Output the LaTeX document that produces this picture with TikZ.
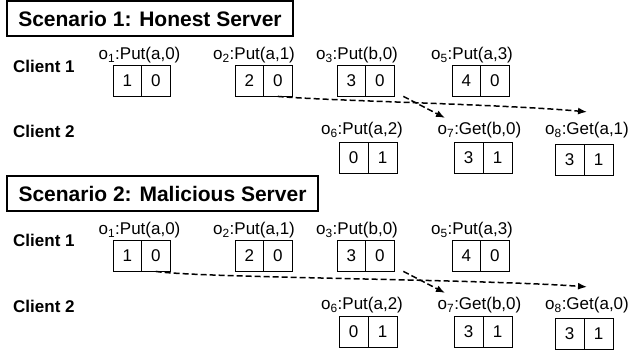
\documentclass[tikz,border=0pt]{standalone}
\usepackage{fontspec}
\setmainfont{Liberation Sans}
\usetikzlibrary{arrows.meta,calc}
\begin{document}
\begin{tikzpicture}[x=1pt,y=-1pt,
  cell/.style={draw,line width=0.8pt,minimum width=28.5pt,minimum height=31pt,inner sep=0pt,font=\fontsize{17}{20}\selectfont},
  cellw/.style={cell,minimum width=29pt},
  oplabel/.style={inner sep=0pt,font=\fontsize{17}{20}\selectfont},
  client/.style={anchor=west,inner sep=0pt,font=\fontsize{17}{20}\selectfont\bfseries},
  titlebox/.style={draw,line width=1.6pt,inner sep=0pt,minimum height=35pt,font=\fontsize{21}{25}\selectfont\bfseries},
  flow/.style={dash pattern=on 6pt off 3pt,line width=1.5pt,-{Latex[length=9pt,width=7pt]}}
]
\useasboundingbox (0,0) rectangle (631,354);

% ---------- Scenario 1 ----------
\node[titlebox,minimum width=286pt] (t1) at (150,18.5) {Scenario 1: Honest Server};
\node[client] (s1c1) at (13,66.5) {Client 1};
\node[client] (s1c2) at (13,131) {Client 2};

\node[oplabel] (s1l1) at (139.5,55.5) {o\textsubscript{1}:Put(a,0)};
\node[oplabel] (s1l2) at (254,55.5) {o\textsubscript{2}:Put(a,1)};
\node[oplabel] (s1l3) at (357,55.5) {o\textsubscript{3}:Put(b,0)};
\node[oplabel] (s1l5) at (472,55.5) {o\textsubscript{5}:Put(a,3)};
\node[oplabel] (s1l6) at (362,130.5) {o\textsubscript{6}:Put(a,2)};
\node[oplabel] (s1l7) at (479.5,130.5) {o\textsubscript{7}:Get(b,0)};
\node[oplabel] (s1l8) at (587,130.5) {o\textsubscript{8}:Get(a,1)};

\node[cell] (s1o1a) at (127.25,80.5) {1};
\node[cell] (s1o1b) at (155.75,80.5) {0};
\node[cell] (s1o2a) at (249.25,80.5) {2};
\node[cell] (s1o2b) at (277.75,80.5) {0};
\node[cell] (s1o3a) at (351.25,80.5) {3};
\node[cell] (s1o3b) at (379.75,80.5) {0};
\node[cell] (s1o5a) at (466.25,80.5) {4};
\node[cell] (s1o5b) at (494.75,80.5) {0};
\node[cellw] (s1o6a) at (353.5,157.5) {0};
\node[cellw] (s1o6b) at (382.5,157.5) {1};
\node[cellw] (s1o7a) at (468.5,157.5) {3};
\node[cellw] (s1o7b) at (497.5,157.5) {1};
\node[cellw] (s1o8a) at (569.5,159.5) {3};
\node[cellw] (s1o8b) at (598.5,159.5) {1};

\draw[flow] (s1o2b.south) .. controls (330,101) and (500,104) .. ([yshift=10.5pt]s1l8.north);
\draw[flow] ([xshift=9pt]s1o3b.south east) -- ([xshift=-34.5pt,yshift=4.5pt]s1l7.north);

% ---------- Scenario 2 ----------
\node[titlebox,minimum width=311pt] (t2) at (162.5,193.5) {Scenario 2: Malicious Server};
\node[client] (s2c1) at (13,240.5) {Client 1};
\node[client] (s2c2) at (13,306) {Client 2};

\node[oplabel] (s2l1) at (139.5,230.5) {o\textsubscript{1}:Put(a,0)};
\node[oplabel] (s2l2) at (254,230.5) {o\textsubscript{2}:Put(a,1)};
\node[oplabel] (s2l3) at (357,230.5) {o\textsubscript{3}:Put(b,0)};
\node[oplabel] (s2l5) at (472,230.5) {o\textsubscript{5}:Put(a,3)};
\node[oplabel] (s2l6) at (362,305.5) {o\textsubscript{6}:Put(a,2)};
\node[oplabel] (s2l7) at (479.5,305.5) {o\textsubscript{7}:Get(b,0)};
\node[oplabel] (s2l8) at (587,305.5) {o\textsubscript{8}:Get(a,0)};

\node[cell] (s2o1a) at (127.25,255.5) {1};
\node[cell] (s2o1b) at (155.75,255.5) {0};
\node[cell] (s2o2a) at (249.25,255.5) {2};
\node[cell] (s2o2b) at (277.75,255.5) {0};
\node[cell] (s2o3a) at (351.25,255.5) {3};
\node[cell] (s2o3b) at (379.75,255.5) {0};
\node[cell] (s2o5a) at (466.25,255.5) {4};
\node[cell] (s2o5b) at (494.75,255.5) {0};
\node[cellw] (s2o6a) at (353.5,332) {0};
\node[cellw] (s2o6b) at (382.5,332) {1};
\node[cellw] (s2o7a) at (468.5,332) {3};
\node[cellw] (s2o7b) at (497.5,332) {1};
\node[cellw] (s2o8a) at (569.5,334) {3};
\node[cellw] (s2o8b) at (598.5,334) {1};

\draw[flow] (s2o1b.south) .. controls (200,278) and (480,279) .. ([yshift=10.5pt]s2l8.north);
\draw[flow] ([xshift=9pt]s2o3b.south east) -- ([xshift=-34.5pt,yshift=4.5pt]s2l7.north);
\end{tikzpicture}
\end{document}
